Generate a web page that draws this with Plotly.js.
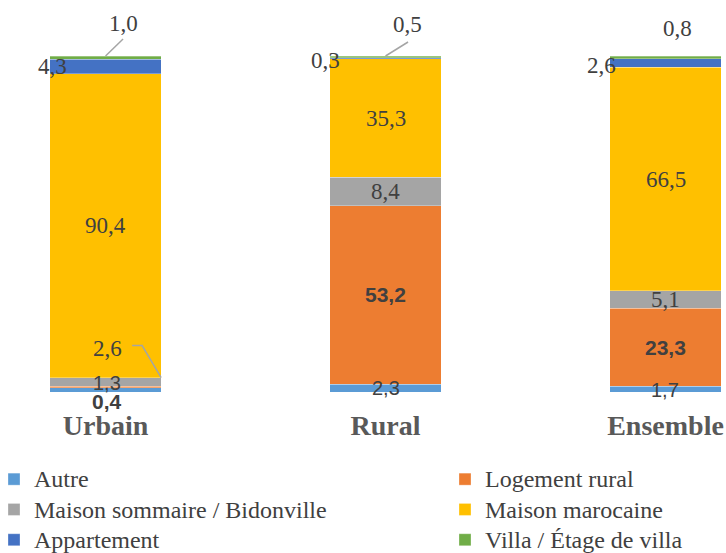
<!DOCTYPE html>
<html>
<head>
<meta charset="utf-8">
<script src="https://cdn.plot.ly/plotly-3.0.1.min.js"></script>
<style>
html,body{margin:0;padding:0;background:#fff;}
#chart{width:726px;height:553px;}
</style>
</head>
<body>
<div id="chart"></div>
<script>
// ---- Data ----
const categories = ['Urbain', 'Rural', 'Ensemble'];
const seriesNames = ['Autre', 'Logement rural', 'Maison sommaire / Bidonville', 'Maison marocaine', 'Appartement', 'Villa / Étage de villa'];
const autre = [1.3, 2.3, 1.7];
const logementRural = [0.4, 53.2, 23.3];
const maisonSommaire = [2.6, 8.4, 5.1];
const maisonMarocaine = [90.4, 35.3, 66.5];
const appartement = [4.3, 0.3, 2.6];
const villa = [1.0, 0.5, 0.8];

const seriesValues = [autre, logementRural, maisonSommaire, maisonMarocaine, appartement, villa];
const seriesColors = ['#5B9BD5', '#ED7D31', '#A5A5A5', '#FFC000', '#4472C4', '#70AD47'];
const legendOf = ['legend', 'legend2', 'legend', 'legend2', 'legend', 'legend2'];

// ---- Geometry ----
const W = 726, H = 553;
const plotBottom = 392;             // pixel row of value 0
const xRange = [-0.377, 2.216];
const pxPerX = W / (xRange[1] - xRange[0]);
const yMax = 116.67;
const pxPerY = plotBottom / yMax;
const barWidth = 0.397;
const dx = p => p / pxPerX;
const dy = p => p / pxPerY;

const legendLabel = n => '<span style="font-size:24px">' + n + '</span>';

const traces = seriesValues.map((vals, s) => ({
  type: 'bar',
  name: legendLabel(seriesNames[s]),
  legend: legendOf[s],
  x: categories,
  y: vals,
  width: barWidth,
  marker: {color: seriesColors[s], line: {color: 'rgba(255,255,255,0.6)', width: 0.5}},
  hoverinfo: 'y'
}));

const SERIF = '"Liberation Serif", "Times New Roman", serif';
const SANS = '"Liberation Sans", Arial, sans-serif';
const serif = {family: SERIF, size: 23, color: '#404040'};
const sans = {family: SANS, size: 20, color: '#404040'};
const sansBold = {family: SANS, size: 21, color: '#404040', weight: 'bold'};
// [series][category] label offsets (pixels) and font
const labelStyle = [
  [{xs: 1, ys: 7, f: sans}, {xs: 0, ys: 0, f: sans}, {xs: -1, ys: -1, f: sans}],
  [{xs: 1, ys: -15, f: sansBold}, {xs: 0, ys: 0, f: sansBold}, {xs: 0, ys: 0, f: sansBold}],
  [{xs: 2, ys: 33, f: serif}, {xs: 0, ys: 0, f: serif}, {xs: 0, ys: 0, f: serif}],
  [{xs: 0, ys: 0, f: serif}, {xs: 0, ys: 0, f: serif}, {xs: 0, ys: 0, f: serif}],
  [{xs: -53, ys: 0, f: serif}, {xs: -60, ys: -2, f: serif}, {xs: -64, ys: -2, f: serif}],
  [{xs: 18, ys: 34, f: serif}, {xs: 22, ys: 32, f: serif}, {xs: 12, ys: 29, f: serif}]
];

const fmt = v => v.toFixed(1).replace('.', ',');
const annotations = [];
categories.forEach((cat, c) => {
  let base = 0;
  seriesValues.forEach((vals, s) => {
    const v = vals[c];
    const st = labelStyle[s][c];
    annotations.push({
      x: c, y: base + v / 2, xref: 'x', yref: 'y',
      text: fmt(v), showarrow: false,
      xshift: st.xs, yshift: st.ys,
      font: st.f
    });
    base += v;
  });
});

// Leader lines
const lineStyle = {color: '#A5A5A5', width: 1.5};
const stackTop = c => seriesValues.reduce((a, vals) => a + vals[c], 0);
const sommaireTopU = autre[0] + logementRural[0] + maisonSommaire[0];
const shapes = [
  {type: 'line', xref: 'x', yref: 'y', x0: 0 + dx(17.5), y0: stackTop(0) + dy(17), x1: 0, y1: stackTop(0), line: lineStyle},
  {type: 'line', xref: 'x', yref: 'y', x0: 1 + dx(22.5), y0: stackTop(1) + dy(14), x1: 1, y1: stackTop(1), line: lineStyle},
  {type: 'path', xref: 'x', yref: 'y',
   path: 'M ' + (barWidth / 2 - dx(29)) + ',' + (sommaireTopU + dy(32)) +
         ' L ' + (barWidth / 2 - dx(19)) + ',' + (sommaireTopU + dy(32)) +
         ' L ' + (barWidth / 2) + ',' + sommaireTopU,
   line: lineStyle}
];

const legendFont = {family: SERIF, size: 21, color: '#404040'};
const legendTop = 1 - 459 / H;

const layout = {
  width: W, height: H,
  margin: {l: 0, r: 0, t: 0, b: 0, pad: 0, autoexpand: false},
  paper_bgcolor: '#ffffff', plot_bgcolor: '#ffffff',
  barmode: 'stack',
  showlegend: true,
  xaxis: {
    type: 'category', range: xRange, fixedrange: true, automargin: false,
    showgrid: false, zeroline: false, showline: false,
    ticks: '', ticklabelstandoff: 14,
    tickfont: {family: SERIF, size: 28, color: '#595959', weight: 'bold'}
  },
  yaxis: {domain: [(H - plotBottom) / H, 1], range: [0, yMax], showgrid: false, zeroline: false,
          showline: false, showticklabels: false, fixedrange: true, automargin: false},
  legend: {
    orientation: 'v', x: -6 / W, xanchor: 'left', y: legendTop, yanchor: 'top',
    font: legendFont, bgcolor: 'rgba(0,0,0,0)', traceorder: 'normal'
  },
  legend2: {
    orientation: 'v', x: 445 / W, xanchor: 'left', y: legendTop, yanchor: 'top',
    font: legendFont, bgcolor: 'rgba(0,0,0,0)', traceorder: 'normal'
  },
  annotations: annotations,
  shapes: shapes
};

Plotly.newPlot('chart', traces, layout, {displayModeBar: false, staticPlot: true});
</script>
</body>
</html>
